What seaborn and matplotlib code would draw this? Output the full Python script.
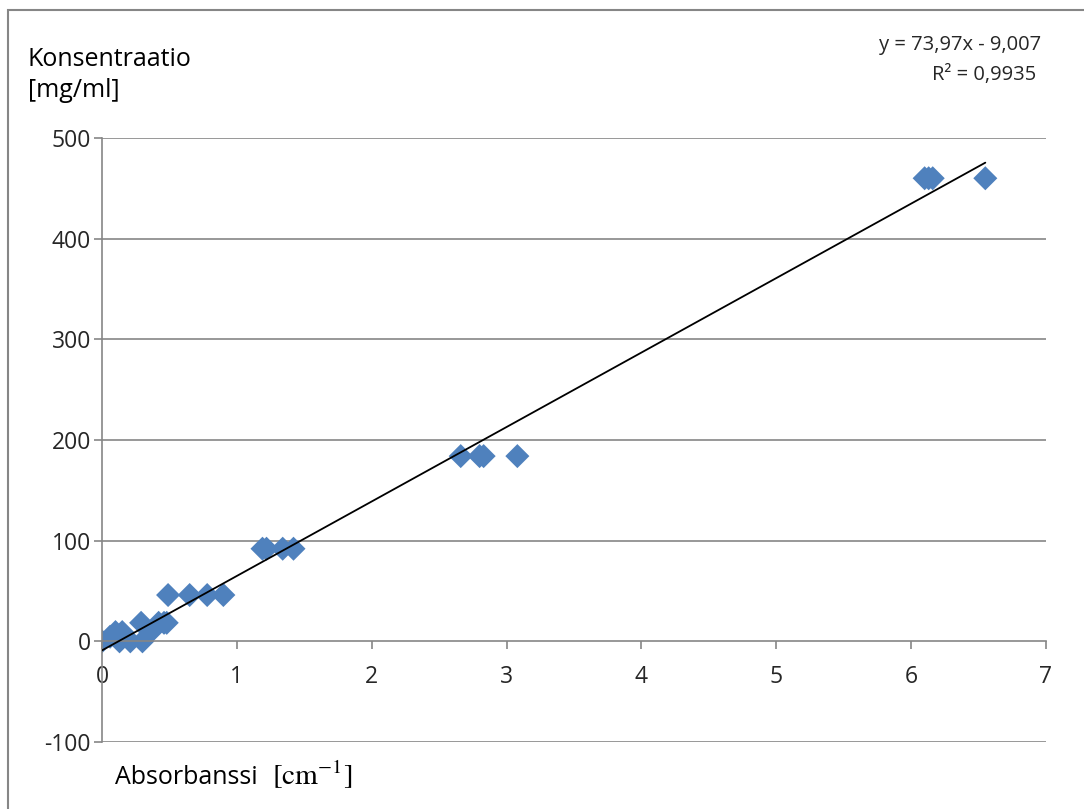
import numpy as np
import pandas as pd
import matplotlib
matplotlib.use("Agg")
import matplotlib.pyplot as plt
import matplotlib.patches as mpatches
import seaborn as sns

# Data
absorbance = [0.00, 0.13, 0.21, 0.30,
              0.06, 0.10, 0.15, 0.36,
              0.29, 0.42, 0.46, 0.48,
              0.49, 0.65, 0.78, 0.90,
              1.19, 1.22, 1.34, 1.42,
              2.66, 2.80, 2.83, 3.08,
              6.10, 6.13, 6.16, 6.55]
concentration = [0, 0, 0, 0,
                 4.6, 9.2, 9.2, 9.2,
                 18.4, 18.4, 18.4, 18.4,
                 46, 46, 46, 46,
                 92, 92, 92, 92,
                 184, 184, 184, 184,
                 460, 460, 460, 460]
slope = 73.97
intercept = -9.007
eq_label = "y = 73,97x - 9,007"
r2_label = "R² = 0,9935"
x_ticks = [0, 1, 2, 3, 4, 5, 6, 7]
y_ticks = [-100, 0, 100, 200, 300, 400, 500]

df = pd.DataFrame({"x": absorbance, "y": concentration})

sns.set_theme(style="white")
plt.rcParams["font.family"] = ["Open Sans", "DejaVu Sans"]
plt.rcParams["mathtext.fontset"] = "stix"

fig = plt.figure(figsize=(10.84, 8.09), dpi=100)
ax = fig.add_axes([102 / 1084, 1 - 742 / 809, (1046 - 102) / 1084, (742 - 138) / 809])

# outer chart border
fig.patches.append(mpatches.Rectangle((8 / 1084, -0.01), 1.02, 1 - 10 / 809 + 0.01,
                                      transform=fig.transFigure, fill=False,
                                      edgecolor="#868686", linewidth=1.5))

# trendline
xl = np.array([min(absorbance), max(absorbance)])
ax.plot(xl, slope * xl + intercept, color="black", linewidth=1.3, zorder=3)

sns.scatterplot(data=df, x="x", y="y", ax=ax, marker="D", s=150,
                color="#4F81BD", edgecolor="none", zorder=2)

ax.set_xlim(0, 7)
ax.set_ylim(-100, 500)
ax.set_yticks(y_ticks)
ax.set_xticks(x_ticks)
ax.set_xlabel("")
ax.set_ylabel("")
for yv in y_ticks:
    if yv != 0:
        ax.axhline(yv, color="#868686", linewidth=1.2, zorder=0)

for s in ["top", "right"]:
    ax.spines[s].set_visible(False)
ax.spines["left"].set_color("#868686")
ax.spines["left"].set_linewidth(1.2)
ax.spines["bottom"].set_position(("data", 0))
ax.spines["bottom"].set_color("#868686")
ax.spines["bottom"].set_linewidth(1.2)

ax.tick_params(axis="y", which="both", left=True, length=6, width=1.2,
               color="#868686", labelsize=16.5, pad=2, direction="out")
ax.tick_params(axis="x", which="both", bottom=True, length=6, width=1.2,
               color="#868686", labelsize=16.5, pad=11, direction="out")
ax.set_yticklabels([str(v) for v in y_ticks])
ax.set_xticklabels([str(v) for v in x_ticks])

fig.text(28 / 1084, 1 - 75 / 809, "Konsentraatio\n[mg/ml]", fontsize=18,
         ha="left", va="center", linespacing=1.3, color="black")
fig.text(115 / 1084, 1 - 777 / 809, "Absorbanssi", fontsize=18,
         ha="left", va="center", color="black")
fig.text(272 / 1084, 1 - 776 / 809, r"$[\mathrm{cm}^{-1}]$", fontsize=21,
         ha="left", va="center", color="black")
fig.text(1041 / 1084, 1 - 45 / 809, eq_label, fontsize=14.5, ha="right", va="center")
fig.text(1036 / 1084, 1 - 75 / 809, r2_label, fontsize=14.5, ha="right", va="center")

fig.savefig("out.png", dpi=100)
